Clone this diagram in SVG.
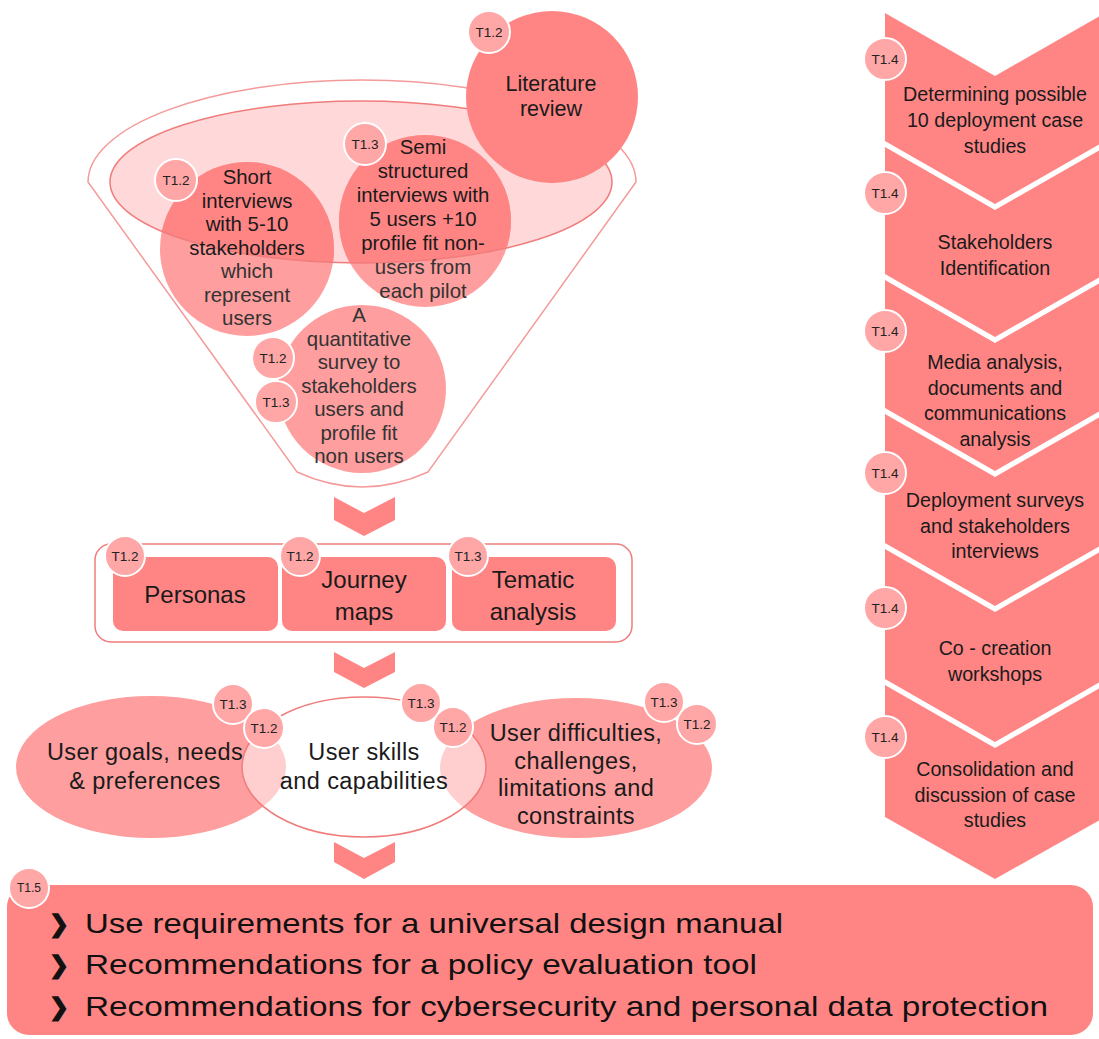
<svg xmlns="http://www.w3.org/2000/svg" width="1099" height="1039" viewBox="0 0 1099 1039">
<defs>
<style>
text{font-family:"Liberation Sans",Arial,sans-serif}
.dark{fill:#FF8585}
.light{fill:#FF9E9E}
.t{fill:#1a1a1a;text-anchor:middle}
.g{fill:#333;text-anchor:middle}
.badge circle{fill:#FFA6A6;stroke:#fff;stroke-width:2}
.badge text{font-size:13.5px;fill:#222;text-anchor:middle}
.chev{fill:#FF8585}
.fc{font-size:20.4px}
.rc{font-size:19.7px}
.bx{font-size:24px}
.el{font-size:23.5px;letter-spacing:0.4px}
.bul{font-family:"DejaVu Sans",sans-serif;font-size:24px;fill:#111;stroke:#111;stroke-width:1.2}
</style>
<clipPath id="funnelEll"><ellipse cx="361" cy="182" rx="251" ry="81"/></clipPath>
</defs>
<rect width="1099" height="1039" fill="#fff"/>

<!-- Funnel -->
<g id="funnel">
<path d="M88,182 A274,102 0 0 1 636,182 L428,472 Q362,502 297,472 Z" fill="#fff" stroke="#F49A9A" stroke-width="1.5"/>
<ellipse cx="361" cy="182" rx="251" ry="81" fill="#FFD9D9"/>
</g>

<g id="short-interviews">
<circle class="light" cx="247" cy="249" r="87"/>
<circle cx="247" cy="249" r="87" fill="#FF8585" clip-path="url(#funnelEll)"/>
</g>
<g id="semi-structured">
<circle class="light" cx="425" cy="221" r="86"/>
<circle cx="425" cy="221" r="86" fill="#FF8585" clip-path="url(#funnelEll)"/>
</g>
<g id="quantitative-survey">
<circle class="light" cx="362" cy="389" r="84"/>
</g>
<ellipse cx="361" cy="182" rx="251" ry="81" fill="none" stroke="#F07C7C" stroke-width="1.5"/>

<g class="fc">
<text class="t" x="247" y="184">Short</text>
<text class="t" x="247" y="207.5">interviews</text>
<text class="t" x="247" y="231">with 5-10</text>
<text class="t" x="247" y="254.5">stakeholders</text>
<text class="g" x="247" y="278">which</text>
<text class="g" x="247" y="301.5">represent</text>
<text class="g" x="247" y="325">users</text>

<text class="t" x="423" y="154">Semi</text>
<text class="t" x="423" y="178">structured</text>
<text class="t" x="423" y="202">interviews with</text>
<text class="t" x="423" y="226">5 users +10</text>
<text class="t" x="423" y="250">profile fit non-</text>
<text class="g" x="423" y="274">users from</text>
<text class="g" x="423" y="297.5">each pilot</text>

<text class="g" x="359" y="322">A</text>
<text class="g" x="359" y="345.5">quantitative</text>
<text class="g" x="359" y="369">survey to</text>
<text class="g" x="359" y="392.5">stakeholders</text>
<text class="g" x="359" y="416">users and</text>
<text class="g" x="359" y="439.5">profile fit</text>
<text class="g" x="359" y="463">non users</text>
</g>

<g id="literature-review">
<circle class="dark" cx="552" cy="97" r="86"/>
<text class="t" x="551" y="91" font-size="21.5">Literature</text>
<text class="t" x="551" y="116" font-size="21.5">review</text>
</g>

<g id="funnel-badges">
<g class="badge"><circle cx="489" cy="32" r="21"/><text x="489" y="37">T1.2</text></g>
<g class="badge"><circle cx="365" cy="144" r="21"/><text x="365" y="149">T1.3</text></g>
<g class="badge"><circle cx="176" cy="180" r="21"/><text x="176" y="185">T1.2</text></g>
<g class="badge"><circle cx="273" cy="358" r="21"/><text x="273" y="363">T1.2</text></g>
<g class="badge"><circle cx="276" cy="402" r="21"/><text x="276" y="407">T1.3</text></g>
</g>

<!-- Outputs panel -->
<g id="outputs-panel">
<rect x="95" y="544" width="537" height="98" rx="16" fill="#fff" stroke="#F07C7C" stroke-width="1.5"/>
</g>
<g id="personas">
<rect class="dark" x="113" y="557" width="165" height="74" rx="10"/>
<text class="t bx" x="195" y="603">Personas</text>
<g class="badge"><circle cx="125" cy="556" r="20"/><text x="125" y="561">T1.2</text></g>
</g>
<g id="journey-maps">
<rect class="dark" x="282" y="557" width="164" height="74" rx="10"/>
<text class="t bx" x="364" y="588">Journey</text>
<text class="t bx" x="364" y="620">maps</text>
<g class="badge"><circle cx="300" cy="556" r="20"/><text x="300" y="561">T1.2</text></g>
</g>
<g id="tematic-analysis">
<rect class="dark" x="452" y="557" width="164" height="74" rx="10"/>
<text class="t bx" x="533" y="588">Tematic</text>
<text class="t bx" x="533" y="620">analysis</text>
<g class="badge"><circle cx="468" cy="556" r="20"/><text x="468" y="561">T1.3</text></g>
</g>

<!-- Findings -->
<g id="user-goals">
<ellipse class="light" cx="151" cy="767" rx="135" ry="71"/>
</g>
<g id="user-difficulties">
<ellipse class="light" cx="576" cy="768" rx="136" ry="70"/>
</g>
<g id="user-skills">
<ellipse cx="364" cy="767" rx="122" ry="70" fill="#fff" fill-opacity="0.5" stroke="#F07C7C" stroke-width="1.5"/>
</g>
<g class="el">
<text class="t" x="145" y="760">User goals, needs</text>
<text class="t" x="145" y="789">&amp; preferences</text>
<text class="t" x="364" y="760">User skills</text>
<text class="t" x="364" y="789">and capabilities</text>
<text class="t" x="576" y="741">User difficulties,</text>
<text class="t" x="576" y="768.7">challenges,</text>
<text class="t" x="576" y="796.4">limitations and</text>
<text class="t" x="576" y="824">constraints</text>
</g>
<g id="findings-badges">
<g class="badge"><circle cx="233" cy="704" r="20"/><text x="233" y="709">T1.3</text></g>
<g class="badge"><circle cx="264" cy="728" r="20"/><text x="264" y="733">T1.2</text></g>
<g class="badge"><circle cx="421" cy="703" r="20"/><text x="421" y="708">T1.3</text></g>
<g class="badge"><circle cx="453" cy="727" r="20"/><text x="453" y="732">T1.2</text></g>
<g class="badge"><circle cx="664" cy="702" r="20"/><text x="664" y="707">T1.3</text></g>
<g class="badge"><circle cx="697" cy="724" r="20"/><text x="697" y="729">T1.2</text></g>
</g>

<!-- Connectors -->
<g id="connectors">
<polygon class="chev" points="334,497 364,513 395,497 395,520 364,536 334,520"/>
<polygon class="chev" points="334,652 364,668 395,652 395,672 364,688 334,672"/>
<polygon class="chev" points="334,842 364,858 395,842 395,862 364,879 334,862"/>
</g>

<!-- Right column -->
<g id="case-studies-1">
<polygon class="dark" points="885,13 995,76 1105,13 1105,141 995,204 885,141"/>
<text class="t rc" x="995" y="101">Determining possible</text>
<text class="t rc" x="995" y="127">10 deployment case</text>
<text class="t rc" x="995" y="153">studies</text>
<g class="badge"><circle cx="885" cy="59" r="21"/><text x="885" y="64">T1.4</text></g>
</g>
<g id="case-studies-2">
<polygon class="dark" points="885,147 995,210 1105,147 1105,274 995,337 885,274"/>
<text class="t rc" x="995" y="249">Stakeholders</text>
<text class="t rc" x="995" y="275">Identification</text>
<g class="badge"><circle cx="885" cy="193" r="21"/><text x="885" y="198">T1.4</text></g>
</g>
<g id="case-studies-3">
<polygon class="dark" points="885,280 995,343 1105,280 1105,408 995,471 885,408"/>
<text class="t rc" x="995" y="369">Media analysis,</text>
<text class="t rc" x="995" y="394.5">documents and</text>
<text class="t rc" x="995" y="420">communications</text>
<text class="t rc" x="995" y="445.5">analysis</text>
<g class="badge"><circle cx="885" cy="331" r="21"/><text x="885" y="336">T1.4</text></g>
</g>
<g id="case-studies-4">
<polygon class="dark" points="885,414 995,477 1105,414 1105,543 995,606 885,543"/>
<text class="t rc" x="995" y="507">Deployment surveys</text>
<text class="t rc" x="995" y="532.5">and stakeholders</text>
<text class="t rc" x="995" y="558">interviews</text>
<g class="badge"><circle cx="885" cy="473" r="21"/><text x="885" y="478">T1.4</text></g>
</g>
<g id="case-studies-5">
<polygon class="dark" points="885,549 995,612 1105,549 1105,679 995,742 885,679"/>
<text class="t rc" x="995" y="655">Co - creation</text>
<text class="t rc" x="995" y="680.5">workshops</text>
<g class="badge"><circle cx="885" cy="608" r="21"/><text x="885" y="613">T1.4</text></g>
</g>
<g id="case-studies-6">
<polygon class="dark" points="885,685 995,748 1105,685 1105,817 995,879 885,817"/>
<text class="t rc" x="995" y="776">Consolidation and</text>
<text class="t rc" x="995" y="801.5">discussion of case</text>
<text class="t rc" x="995" y="827">studies</text>
<g class="badge"><circle cx="885" cy="737" r="21"/><text x="885" y="742">T1.4</text></g>
</g>

<!-- Bottom box -->
<g id="results">
<rect class="dark" x="7" y="885" width="1086" height="150" rx="22"/>
<g font-size="28" fill="#111">
<text class="bul" x="49" y="932">❯</text>
<text x="85" y="933" textLength="698" lengthAdjust="spacingAndGlyphs">Use requirements for a universal design manual</text>
<text class="bul" x="49" y="973">❯</text>
<text x="85" y="974" textLength="672" lengthAdjust="spacingAndGlyphs">Recommendations for a policy evaluation tool</text>
<text class="bul" x="49" y="1015">❯</text>
<text x="85" y="1016" textLength="963" lengthAdjust="spacingAndGlyphs">Recommendations for cybersecurity and personal data protection</text>
</g>
<g class="badge"><circle cx="29" cy="888" r="20"/><text x="29" y="892" style="font-size:12px">T1.5</text></g>
</g>
</svg>
